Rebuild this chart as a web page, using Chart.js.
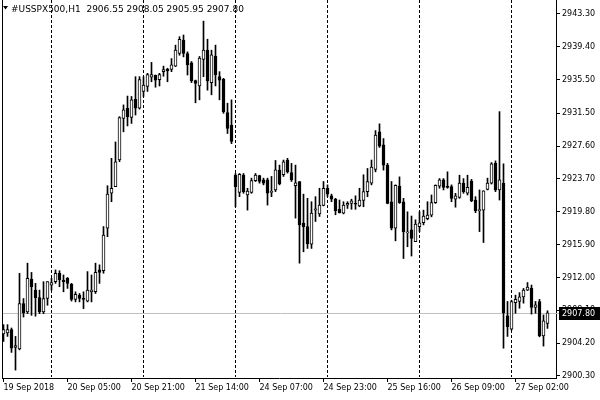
<!DOCTYPE html>
<html>
<head>
<meta charset="utf-8">
<script src="https://cdn.jsdelivr.net/npm/chart.js@4.4.0/dist/chart.umd.min.js"></script>
<style>
  html, body { margin: 0; padding: 0; background: #fff; }
  #caja { width: 600px; height: 400px; }
</style>
</head>
<body>
<div id="caja"><canvas id="grafico" width="600" height="400"></canvas></div>
<script>
// Datos: velas H1 de #USSPX500, 19 Sep 12:00 a 27 Sep 10:00 (137 barras)
const simbolo = '#USSPX500,H1';

const open = [
  2905.3, 2905.4, 2905.8, 2903.7, 2903.5, 2908.9, 2907.9, 2911.8, 2910.5, 2909.6,
  2907.9, 2909.5, 2911.1, 2911.5, 2912.5, 2911.7, 2911.9, 2911.2, 2909.4, 2909.9,
  2909.5, 2909.2, 2910.3, 2910.3, 2912.9, 2912.8, 2917.85, 2922.0, 2922.8, 2925.95,
  2930.9, 2932.1, 2931.0, 2933.15, 2932.1, 2934.1, 2934.7, 2935.8, 2936.0, 2935.5,
  2936.45, 2936.75, 2936.7, 2937.1, 2938.6, 2940.2, 2938.6, 2937.5, 2935.4, 2934.75,
  2937.9, 2939.0, 2935.15, 2938.3, 2935.85, 2935.55, 2931.6, 2930.1, 2924.15, 2922.1,
  2924.15, 2921.8, 2922.1, 2923.5, 2924.1, 2923.6, 2923.6, 2922.1, 2922.4, 2924.75,
  2924.2, 2925.95, 2924.45, 2922.9, 2923.4, 2918.45, 2918.05, 2915.95, 2920.0, 2919.55,
  2920.55, 2922.6, 2921.7, 2921.3, 2920.1, 2919.65, 2920.6, 2920.8, 2920.8, 2920.5,
  2921.15, 2922.2, 2923.2, 2924.85, 2929.3, 2927.75, 2925.35, 2921.0, 2917.85, 2922.85,
  2921.0, 2917.3, 2917.65, 2916.25, 2918.05, 2918.5, 2919.0, 2919.4, 2920.9, 2922.85,
  2923.6, 2922.75, 2922.8, 2921.3, 2921.5, 2923.2, 2922.0, 2923.45, 2921.2, 2919.95,
  2920.0, 2922.45, 2923.2, 2925.55, 2922.4, 2923.2, 2907.45, 2905.85, 2909.0, 2909.15,
  2909.7, 2910.5, 2910.7, 2908.45, 2909.15, 2905.05, 2906.55
];
const high = [
  2906.4, 2906.4, 2906.0, 2905.0, 2912.5, 2909.5, 2913.7, 2912.6, 2911.3, 2910.5,
  2911.5, 2911.5, 2911.9, 2912.9, 2912.8, 2912.3, 2912.0, 2911.3, 2910.3, 2910.1,
  2910.3, 2912.7, 2912.3, 2913.7, 2913.5, 2918.05, 2922.9, 2926.15, 2928.1, 2931.1,
  2932.5, 2933.55, 2933.5, 2935.85, 2935.85, 2935.85, 2936.25, 2937.55, 2936.05, 2936.25,
  2937.1, 2936.85, 2938.0, 2939.6, 2940.6, 2940.8, 2938.8, 2937.65, 2935.45, 2938.25,
  2942.45, 2940.3, 2939.0, 2939.6, 2936.45, 2935.65, 2932.7, 2933.1, 2924.35, 2924.35,
  2924.35, 2922.6, 2923.8, 2924.35, 2924.15, 2923.8, 2923.8, 2924.0, 2925.9, 2925.35,
  2925.95, 2926.15, 2925.55, 2925.35, 2923.4, 2921.9, 2921.4, 2921.0, 2921.6, 2922.6,
  2923.4, 2923.0, 2921.9, 2921.4, 2921.2, 2921.0, 2921.0, 2921.3, 2921.7, 2922.6,
  2924.2, 2924.95, 2925.95, 2929.45, 2930.25, 2928.5, 2925.55, 2923.4, 2923.0, 2923.95,
  2921.4, 2919.8, 2919.3, 2918.85, 2919.8, 2920.0, 2921.0, 2921.8, 2923.0, 2923.75,
  2923.75, 2924.55, 2923.0, 2922.0, 2924.15, 2923.75, 2924.15, 2923.65, 2921.6, 2922.4,
  2922.3, 2923.8, 2925.65, 2925.85, 2931.7, 2925.5, 2909.15, 2909.3, 2909.9, 2910.2,
  2910.7, 2911.4, 2911.1, 2909.15, 2909.4, 2907.55, 2908.05
];
const low = [
  2904.4, 2905.0, 2903.1, 2901.0, 2903.4, 2907.3, 2907.7, 2907.5, 2907.4, 2907.7,
  2907.7, 2908.7, 2910.5, 2911.3, 2910.9, 2910.3, 2910.7, 2909.2, 2909.1, 2909.1,
  2908.3, 2909.1, 2909.1, 2910.1, 2911.3, 2912.5, 2916.85, 2921.0, 2922.8, 2925.75,
  2929.3, 2930.0, 2930.3, 2931.3, 2932.0, 2933.5, 2934.1, 2935.25, 2934.6, 2934.75,
  2935.9, 2935.25, 2936.45, 2937.05, 2938.4, 2938.2, 2936.05, 2935.15, 2932.75, 2933.1,
  2935.85, 2934.25, 2933.7, 2934.75, 2933.1, 2931.5, 2929.1, 2927.9, 2920.4, 2921.6,
  2922.0, 2920.0, 2922.0, 2923.4, 2923.2, 2923.0, 2920.6, 2921.6, 2922.2, 2923.0,
  2924.0, 2924.4, 2923.4, 2919.05, 2913.7, 2915.05, 2915.45, 2915.45, 2918.65, 2919.25,
  2920.5, 2921.6, 2921.0, 2919.45, 2919.65, 2919.55, 2920.2, 2920.1, 2920.1, 2920.4,
  2920.4, 2921.6, 2923.0, 2924.55, 2927.45, 2924.75, 2920.75, 2917.65, 2916.35, 2920.8,
  2914.25, 2915.65, 2914.55, 2916.25, 2917.45, 2918.25, 2918.85, 2919.2, 2920.8, 2922.6,
  2922.4, 2922.6, 2921.0, 2920.35, 2921.4, 2922.0, 2921.8, 2921.0, 2919.7, 2917.45,
  2916.15, 2922.4, 2923.1, 2922.2, 2921.2, 2903.6, 2905.0, 2905.75, 2907.75, 2908.35,
  2908.95, 2910.45, 2907.65, 2907.75, 2904.95, 2903.85, 2905.95
];
const close = [
  2905.8, 2905.8, 2903.6, 2903.9, 2908.9, 2907.8, 2911.9, 2910.9, 2909.6, 2907.9,
  2909.5, 2911.5, 2911.4, 2912.5, 2911.7, 2911.5, 2911.3, 2909.4, 2910.0, 2909.5,
  2909.4, 2910.5, 2910.5, 2912.6, 2912.6, 2917.05, 2921.9, 2922.6, 2925.75, 2931.0,
  2931.9, 2931.1, 2933.1, 2932.1, 2935.5, 2934.85, 2936.1, 2936.1, 2935.45, 2936.1,
  2936.7, 2936.55, 2937.25, 2939.0, 2940.3, 2938.6, 2937.25, 2935.35, 2935.05, 2938.05,
  2939.0, 2935.35, 2938.45, 2936.05, 2935.45, 2931.7, 2929.7, 2928.15, 2922.8, 2924.25,
  2922.2, 2922.25, 2923.5, 2924.15, 2923.4, 2923.2, 2922.0, 2922.25, 2924.8, 2923.1,
  2925.75, 2924.55, 2923.6, 2923.25, 2918.25, 2918.05, 2916.0, 2919.65, 2920.15, 2920.6,
  2922.6, 2921.9, 2921.3, 2919.95, 2919.7, 2920.6, 2920.8, 2921.1, 2920.7, 2921.2,
  2922.2, 2923.4, 2925.1, 2928.9, 2927.6, 2925.35, 2920.8, 2917.85, 2922.95, 2920.9,
  2917.45, 2917.4, 2916.65, 2918.35, 2918.5, 2919.3, 2919.4, 2920.9, 2922.95, 2923.6,
  2922.7, 2922.7, 2921.4, 2921.7, 2923.2, 2922.2, 2922.7, 2921.1, 2919.95, 2920.05,
  2922.3, 2923.2, 2925.5, 2922.4, 2923.6, 2907.8, 2906.15, 2909.15, 2909.4, 2909.7,
  2910.5, 2910.85, 2908.45, 2908.75, 2905.05, 2906.85, 2907.8
];

// Etiquetas del eje de tiempo (cada 16 barras)
const ejeXIndices = [0, 16, 32, 48, 64, 80, 96, 112, 128];
const ejeXEtiquetas = ['19 Sep 2018', '20 Sep 05:00', '20 Sep 21:00', '21 Sep 14:00', '24 Sep 07:00',
                       '24 Sep 23:00', '25 Sep 16:00', '26 Sep 09:00', '27 Sep 02:00'];
// Separadores de días (primera barra de cada día)
const separadores = [12, 35, 58, 81, 104, 127];
// Etiquetas del eje de precios
const ejeYPrecios = [2943.30, 2939.40, 2935.50, 2931.50, 2927.60, 2923.70, 2919.80,
                     2915.90, 2912.00, 2908.10, 2904.20, 2900.30];

const fuente = "'DejaVu Sans', sans-serif";
const ultimo = close[close.length - 1];

const cuerpos = open.map((o, i) => ({ x: i, y: [o, close[i]] }));
const mechas = low.map((l, i) => ({ x: i, y: [l, high[i]] }));
const colorCuerpo = open.map((o, i) => close[i] >= o ? '#ffffff' : '#000000');

const marcoPlugin = {
  id: 'marco',
  beforeDatasetsDraw(chart) {
    const { ctx, chartArea: a, scales: { x, y } } = chart;
    ctx.save();
    // linea del precio actual
    const py = Math.round(y.getPixelForValue(ultimo)) + 0.5;
    ctx.strokeStyle = '#c0c0c0';
    ctx.lineWidth = 1;
    ctx.beginPath();
    ctx.moveTo(a.left, py);
    ctx.lineTo(a.right + 3, py);
    ctx.stroke();
    // separadores de periodo
    ctx.strokeStyle = '#000';
    ctx.setLineDash([3, 2]);
    separadores.forEach(i => {
      const px = Math.floor(x.getPixelForValue(i)) + 0.5;
      ctx.beginPath();
      ctx.moveTo(px, a.top);
      ctx.lineTo(px, a.bottom - 1);
      ctx.stroke();
    });
    ctx.setLineDash([]);
    // borde izquierdo
    ctx.beginPath();
    ctx.moveTo(a.left + 0.5, a.top);
    ctx.lineTo(a.left + 0.5, a.bottom);
    ctx.stroke();
    ctx.restore();
  },
  afterDraw(chart) {
    const { ctx, chartArea: a, scales: { y } } = chart;
    ctx.save();
    // etiqueta del precio actual
    const py = Math.round(y.getPixelForValue(ultimo));
    ctx.fillStyle = '#000';
    ctx.fillRect(a.right + 3, py - 6, 600 - a.right - 3, 13);
    ctx.fillStyle = '#fff';
    ctx.font = '8px ' + fuente;
    ctx.textBaseline = 'middle';
    ctx.fillText(ultimo.toFixed(2), a.right + 6, py + 0.5);
    // titulo
    ctx.fillStyle = '#000';
    ctx.beginPath();
    ctx.moveTo(3, 6); ctx.lineTo(8, 6); ctx.lineTo(5.5, 9.5); ctx.closePath();
    ctx.fill();
    ctx.font = '9px ' + fuente;
    ctx.textBaseline = 'alphabetic';
    ctx.fillText(simbolo + '  ' + [open, high, low, close].map(s => s[s.length - 1].toFixed(2)).join(' '), 11, 12);
    ctx.restore();
  }
};

new Chart(document.getElementById('grafico').getContext('2d'), {
  type: 'bar',
  data: {
    datasets: [
      { data: mechas, backgroundColor: '#000', borderWidth: 0, barThickness: 1, grouped: false, order: 2 },
      { data: cuerpos, backgroundColor: colorCuerpo, borderColor: '#000', borderWidth: 1,
        borderSkipped: false, barThickness: 3, minBarLength: 1, grouped: false, order: 1 }
    ]
  },
  options: {
    responsive: false,
    animation: false,
    events: [],
    layout: { padding: { left: 2, right: 0, top: 0, bottom: 0 } },
    plugins: { legend: { display: false }, tooltip: { enabled: false } },
    scales: {
      x: {
        type: 'linear', min: -0.375, max: 138.125, offset: false,
        afterBuildTicks: s => { s.ticks = ejeXIndices.map(v => ({ value: v })); },
        afterFit: s => { s.height = 22; s.paddingLeft = 0; s.paddingRight = 0; },
        ticks: {
          autoSkip: false, maxRotation: 0, align: 'start', padding: 1, color: '#000',
          font: { family: fuente, size: 8 },
          callback: v => ejeXEtiquetas[ejeXIndices.indexOf(v)]
        },
        grid: { offset: false, drawOnChartArea: false, drawTicks: true, tickLength: 4, color: '#000' },
        border: { display: true, color: '#000' }
      },
      y: {
        type: 'linear', position: 'right', min: 2900.06, max: 2944.96,
        afterBuildTicks: s => { s.ticks = ejeYPrecios.map(v => ({ value: v })); },
        afterFit: s => { s.width = 44; s.paddingTop = 0; s.paddingBottom = 0; },
        ticks: {
          autoSkip: false, padding: 2, color: '#000',
          font: { family: fuente, size: 8 },
          callback: v => v.toFixed(2)
        },
        grid: { drawOnChartArea: false, drawTicks: true, tickLength: 4, color: '#000' },
        border: { display: true, color: '#000' }
      }
    }
  },
  plugins: [marcoPlugin]
});
</script>
</body>
</html>
